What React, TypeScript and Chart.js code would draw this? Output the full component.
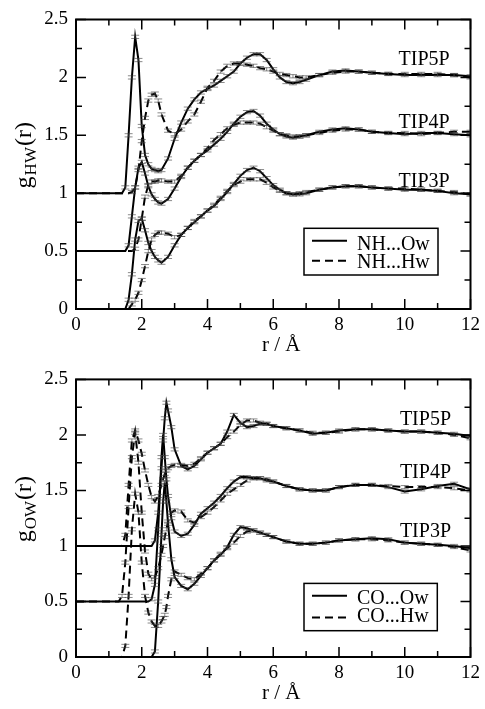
import React, { useEffect, useRef } from 'react';
import { Chart, registerables } from 'chart.js';

Chart.register(...registerables);

// ---------- top panel: N-H ... water ----------
const R_TOP = [0, 1.4, 1.5, 1.6, 1.7, 1.8, 1.9, 2.0, 2.1, 2.2, 2.3, 2.4, 2.5, 2.6, 2.8, 3.0, 3.2, 3.4, 3.6, 3.8, 4.0, 4.2, 4.4, 4.6, 4.8, 5.0, 5.2, 5.4, 5.6, 5.8, 6.0, 6.2, 6.4, 6.6, 6.8, 7.0, 7.4, 7.8, 8.2, 8.6, 9.0, 9.5, 10.0, 10.5, 11.0, 11.5, 12.0];

const NH_OW_TIP5P = [1.0, 1.0, 1.05, 1.5, 2.0, 2.35, 2.15, 1.58, 1.33, 1.25, 1.21, 1.2, 1.19, 1.2, 1.3, 1.47, 1.61, 1.73, 1.81, 1.87, 1.9, 1.93, 1.97, 2.01, 2.05, 2.12, 2.17, 2.2, 2.2, 2.15, 2.07, 2.0, 1.96, 1.95, 1.96, 1.98, 2.02, 2.05, 2.06, 2.05, 2.04, 2.03, 2.02, 2.02, 2.02, 2.02, 2.01];
const NH_HW_TIP5P = [1.0, 1.0, 1.0, 1.0, 1.01, 1.05, 1.2, 1.45, 1.65, 1.8, 1.85, 1.86, 1.8, 1.68, 1.54, 1.51, 1.55, 1.62, 1.68, 1.79, 1.91, 1.97, 2.05, 2.1, 2.12, 2.12, 2.11, 2.1, 2.08, 2.07, 2.05, 2.03, 2.02, 2.01, 2.0, 2.0, 2.02, 2.04, 2.05, 2.05, 2.04, 2.03, 2.03, 2.03, 2.03, 2.02, 2.0];
const NH_OW_TIP4P = [0.5, 0.5, 0.5, 0.55, 0.8, 1.05, 1.22, 1.27, 1.17, 1.06, 0.99, 0.95, 0.92, 0.91, 0.95, 1.04, 1.14, 1.22, 1.28, 1.33, 1.37, 1.42, 1.47, 1.53, 1.6, 1.66, 1.7, 1.71, 1.67, 1.6, 1.55, 1.51, 1.49, 1.48, 1.49, 1.5, 1.53, 1.55, 1.56, 1.55, 1.53, 1.52, 1.51, 1.52, 1.52, 1.51, 1.5];
const NH_HW_TIP4P = [0.5, 0.5, 0.5, 0.5, 0.5, 0.52, 0.6, 0.78, 0.97, 1.07, 1.1, 1.1, 1.11, 1.11, 1.1, 1.1, 1.15, 1.22, 1.28, 1.33, 1.39, 1.46, 1.51, 1.56, 1.59, 1.61, 1.61, 1.61, 1.6, 1.57, 1.54, 1.51, 1.5, 1.49, 1.49, 1.5, 1.52, 1.54, 1.55, 1.55, 1.53, 1.52, 1.52, 1.51, 1.52, 1.53, 1.53];
const NH_OW_TIP3P = [0, 0, 0, 0.08, 0.3, 0.6, 0.76, 0.78, 0.68, 0.57, 0.5, 0.45, 0.42, 0.4, 0.45, 0.55, 0.64, 0.7, 0.75, 0.8, 0.85, 0.89, 0.95, 1.01, 1.08, 1.15, 1.2, 1.22, 1.19, 1.13, 1.07, 1.03, 1.0, 0.99, 0.99, 1.0, 1.03, 1.05, 1.06, 1.06, 1.05, 1.04, 1.03, 1.03, 1.02, 1.0, 0.99];
const NH_HW_TIP3P = [0, 0, 0, 0, 0.04, 0.08, 0.14, 0.25, 0.37, 0.5, 0.6, 0.64, 0.66, 0.66, 0.65, 0.62, 0.64, 0.7, 0.76, 0.8, 0.85, 0.9, 0.96, 1.02, 1.07, 1.1, 1.12, 1.12, 1.12, 1.09, 1.05, 1.02, 1.0, 0.99, 1.0, 1.01, 1.03, 1.05, 1.06, 1.06, 1.05, 1.04, 1.04, 1.03, 1.02, 1.01, 0.99];

// ---------- bottom panel: C=O ... water ----------
const R_BOT = [0, 1.3, 1.4, 1.5, 1.6, 1.7, 1.8, 1.9, 2.0, 2.1, 2.2, 2.3, 2.4, 2.5, 2.6, 2.65, 2.7, 2.75, 2.8, 2.9, 3.0, 3.2, 3.4, 3.6, 3.8, 4.0, 4.2, 4.4, 4.6, 4.8, 5.0, 5.2, 5.4, 5.6, 5.8, 6.0, 6.4, 6.8, 7.2, 7.6, 8.0, 8.5, 9.0, 9.5, 10.0, 10.5, 11.0, 11.5, 12.0];

const CO_OW_TIP5P = [1, 1, 1, 1, 1, 1, 1, 1, 1, 1, 1, 1, 1.05, 1.3, 1.7, 1.95, 2.15, 2.29, 2.22, 2.07, 1.87, 1.72, 1.69, 1.72, 1.78, 1.84, 1.88, 1.92, 2.03, 2.18, 2.11, 2.07, 2.08, 2.1, 2.1, 2.08, 2.06, 2.04, 2.01, 2.02, 2.04, 2.05, 2.05, 2.04, 2.03, 2.03, 2.02, 2.01, 1.99];
const CO_HW_TIP5P = [1, 1, 1.0, 1.1, 1.55, 1.95, 2.04, 1.95, 1.83, 1.68, 1.55, 1.44, 1.4, 1.45, 1.55, 1.6, 1.65, 1.68, 1.7, 1.72, 1.73, 1.73, 1.72, 1.74, 1.79, 1.84, 1.88, 1.92, 1.98, 2.03, 2.09, 2.13, 2.13, 2.11, 2.1, 2.08, 2.06, 2.04, 2.02, 2.02, 2.03, 2.05, 2.05, 2.04, 2.03, 2.03, 2.02, 2.0, 1.97];
const CO_OW_TIP4P = [0.5, 0.5, 0.5, 0.5, 0.5, 0.5, 0.5, 0.5, 0.5, 0.5, 0.5, 0.52, 0.65, 1.15, 1.8, 2.0, 1.8, 1.6, 1.45, 1.25, 1.13, 1.09, 1.11, 1.19, 1.29, 1.34, 1.39, 1.45, 1.52, 1.58, 1.62, 1.62, 1.61, 1.61, 1.59, 1.58, 1.54, 1.51, 1.5, 1.5, 1.53, 1.55, 1.55, 1.53, 1.49, 1.51, 1.54, 1.56, 1.51];
const CO_HW_TIP4P = [0.5, 0.5, 0.55, 0.85, 1.35, 1.8, 2.02, 1.75, 1.3, 0.95, 0.75, 0.7, 0.72, 0.8, 0.92, 1.0, 1.08, 1.15, 1.22, 1.3, 1.32, 1.31, 1.23, 1.21, 1.26, 1.3, 1.35, 1.41, 1.47, 1.51, 1.55, 1.59, 1.61, 1.61, 1.6, 1.58, 1.54, 1.51, 1.5, 1.5, 1.53, 1.55, 1.55, 1.54, 1.53, 1.53, 1.53, 1.52, 1.5];
const CO_OW_TIP3P = [0, 0, 0, 0, 0, 0, 0, 0, 0, 0, 0, 0, 0.05, 0.5, 1.1, 1.4, 1.57, 1.4, 1.2, 0.88, 0.72, 0.64, 0.61, 0.66, 0.73, 0.8, 0.87, 0.92, 0.99, 1.1, 1.17, 1.16, 1.14, 1.12, 1.1, 1.08, 1.04, 1.02, 1.02, 1.03, 1.05, 1.06, 1.07, 1.06, 1.03, 1.02, 1.01, 1.0, 0.98];
const CO_HW_TIP3P = [0, 0, 0.0, 0.1, 0.55, 1.15, 1.47, 1.3, 0.85, 0.55, 0.4, 0.32, 0.28, 0.28, 0.32, 0.35, 0.38, 0.45, 0.55, 0.7, 0.77, 0.74, 0.71, 0.7, 0.75, 0.8, 0.87, 0.93, 0.98, 1.03, 1.09, 1.13, 1.14, 1.12, 1.1, 1.08, 1.04, 1.02, 1.02, 1.03, 1.05, 1.06, 1.06, 1.05, 1.03, 1.02, 1.01, 0.99, 0.96];

const MODEL_LABELS = ['TIP5P', 'TIP4P', 'TIP3P'];
const TOP_LABEL_Y = [2.107, 1.56, 1.056];
const BOT_LABEL_Y = [2.086, 1.612, 1.08];
const TOP_LEGEND = ['NH...Ow', 'NH...Hw'];
const BOT_LEGEND = ['CO...Ow', 'CO...Hw'];
const ERR = 0.014;

const SERIF = '"Liberation Serif", "DejaVu Serif", serif';

type Panel = {
  r: number[];
  series: { v: number[]; dashed: boolean }[];
  labelY: number[];
  labelX: number;
  legend: string[];
  sub: string;
  canvasH: number;
  padTop: number;
  plotH: number;
  legendBox: { left: number; top: number; w: number; h: number; rows: number[]; base: number[] };
};

const decoPlugin = {
  id: 'deco',
  afterDatasetsDraw(chart: any) {
    const { ctx, chartArea: ca, scales } = chart;
    const x = scales.x, y = scales.y;
    ctx.save();
    ctx.beginPath();
    ctx.rect(ca.left, ca.top, ca.right - ca.left, ca.bottom - ca.top);
    ctx.clip();
    ctx.strokeStyle = 'rgba(60,60,60,0.6)';
    ctx.lineWidth = 1;
    chart.data.datasets.forEach((ds: any) => {
      const pts = ds.data;
      const k = pts.findIndex((p: any) => p.y !== pts[0].y);
      for (let i = Math.max(k, 1); i < pts.length; i++) {
        const px = x.getPixelForValue(pts[i].x);
        const y1 = y.getPixelForValue(pts[i].y + ERR);
        const y2 = y.getPixelForValue(pts[i].y - ERR);
        ctx.beginPath();
        ctx.moveTo(px - 4, y1); ctx.lineTo(px + 4, y1);
        ctx.moveTo(px - 4, y2); ctx.lineTo(px + 4, y2);
        ctx.moveTo(px, y1); ctx.lineTo(px, y2);
        ctx.stroke();
      }
    });
    ctx.restore();
  },
  afterDraw(chart: any, _a: any, opts: any) {
    const { ctx, chartArea: ca, scales } = chart;
    const x = scales.x, y = scales.y;
    ctx.save();
    ctx.strokeStyle = '#000';
    ctx.fillStyle = '#000';
    // ticks (inward, mirrored)
    ctx.lineWidth = 1.5;
    for (let v = 0; v <= 12; v += 1) {
      const px = x.getPixelForValue(v);
      const len = v % 2 === 0 ? 10 : 6;
      ctx.beginPath();
      ctx.moveTo(px, ca.bottom); ctx.lineTo(px, ca.bottom - len);
      ctx.moveTo(px, ca.top); ctx.lineTo(px, ca.top + len);
      ctx.stroke();
    }
    for (let j = 0; j <= 10; j++) {
      const v = j * 0.25;
      const py = y.getPixelForValue(v);
      const len = j % 2 === 0 ? 10 : 6;
      ctx.beginPath();
      ctx.moveTo(ca.left, py); ctx.lineTo(ca.left + len, py);
      ctx.moveTo(ca.right, py); ctx.lineTo(ca.right - len, py);
      ctx.stroke();
    }
    // frame
    ctx.lineWidth = 2;
    ctx.strokeRect(ca.left, ca.top, ca.right - ca.left, ca.bottom - ca.top);

    // model labels
    ctx.font = `20px ${SERIF}`;
    ctx.textAlign = 'center';
    ctx.textBaseline = 'alphabetic';
    opts.labels.forEach((t: string, i: number) => {
      ctx.fillText(t, x.getPixelForValue(opts.labelX), y.getPixelForValue(opts.labelY[i]));
    });

    // legend
    const lb = opts.legendBox;
    const bx = ca.left + lb.left, by = ca.top + lb.top;
    ctx.lineWidth = 1.5;
    ctx.strokeRect(bx, by, lb.w, lb.h);
    ctx.lineWidth = 2;
    opts.legend.forEach((t: string, i: number) => {
      ctx.setLineDash(i === 1 ? [8, 5] : []);
      ctx.beginPath();
      ctx.moveTo(bx + 8, by + lb.rows[i]);
      ctx.lineTo(bx + 43, by + lb.rows[i]);
      ctx.stroke();
      ctx.setLineDash([]);
      ctx.textAlign = 'left';
      ctx.fillText(t, bx + 53, by + lb.base[i]);
    });

    // x title
    ctx.textAlign = 'center';
    ctx.textBaseline = 'middle';
    ctx.font = `21px ${SERIF}`;
    ctx.fillText('r / Å', (ca.left + ca.right) / 2 + 8, ca.bottom + 36);

    // y title with subscript
    const cy = (ca.top + ca.bottom) / 2 - 8;
    ctx.translate(31, cy);
    ctx.rotate(-Math.PI / 2);
    ctx.textAlign = 'left';
    ctx.textBaseline = 'alphabetic';
    const big = `24px ${SERIF}`, small = `17px ${SERIF}`;
    ctx.font = big; const wg = ctx.measureText('g').width; const wt = ctx.measureText('(r)').width;
    ctx.font = small; const ws = ctx.measureText(opts.sub).width;
    const start = -(wg + ws + wt) / 2;
    ctx.font = big; ctx.fillText('g', start, 0);
    ctx.font = small; ctx.fillText(opts.sub, start + wg + 1, 5);
    ctx.font = big; ctx.fillText('(r)', start + wg + ws + 2, 0);
    ctx.restore();
  },
};

function makeConfig(p: Panel): any {
  const tickFont = { family: SERIF, size: 19 };
  return {
    type: 'line',
    data: {
      datasets: p.series.map((s) => ({
        data: p.r.map((xv, i) => ({ x: xv, y: s.v[i] })),
        borderColor: '#000',
        borderWidth: 2,
        borderDash: s.dashed ? [8, 5] : [],
        pointRadius: 0,
        tension: 0,
        fill: false,
      })),
    },
    options: {
      animation: false,
      responsive: false,
      maintainAspectRatio: false,
      layout: { padding: { top: p.padTop, right: 10, left: 0, bottom: 0 } },
      plugins: {
        legend: { display: false },
        tooltip: { enabled: false },
        deco: {
          labels: MODEL_LABELS,
          labelX: p.labelX,
          labelY: p.labelY,
          legend: p.legend,
          legendBox: p.legendBox,
          sub: p.sub,
        },
      },
      scales: {
        x: {
          type: 'linear',
          min: 0,
          max: 12,
          ticks: { stepSize: 2, font: tickFont, color: '#000', padding: 5, maxRotation: 0, autoSkip: false, callback: (v: number) => String(v) },
          grid: { display: false, drawTicks: false },
          border: { display: false },
          afterFit: (s: any) => { s.height = p.canvasH - p.padTop - p.plotH; },
        },
        y: {
          type: 'linear',
          min: 0,
          max: 2.5,
          ticks: { stepSize: 0.5, font: tickFont, color: '#000', padding: 8, callback: (v: number) => String(Math.round(v * 100) / 100) },
          grid: { display: false, drawTicks: false },
          border: { display: false },
          afterFit: (s: any) => { s.width = 76; },
        },
      },
    },
    plugins: [decoPlugin],
  };
}

const TOP: Panel = {
  r: R_TOP,
  series: [
    { v: NH_OW_TIP5P, dashed: false },
    { v: NH_HW_TIP5P, dashed: true },
    { v: NH_OW_TIP4P, dashed: false },
    { v: NH_HW_TIP4P, dashed: true },
    { v: NH_OW_TIP3P, dashed: false },
    { v: NH_HW_TIP3P, dashed: true },
  ],
  labelY: TOP_LABEL_Y,
  labelX: 10.59,
  legend: TOP_LEGEND,
  sub: 'HW',
  canvasH: 360,
  padTop: 19.5,
  plotH: 289.5,
  legendBox: { left: 228, top: 208.8, w: 134, h: 46.7, rows: [12.4, 32.4], base: [21.7, 40] },
};

const BOT: Panel = {
  r: R_BOT,
  series: [
    { v: CO_OW_TIP5P, dashed: false },
    { v: CO_HW_TIP5P, dashed: true },
    { v: CO_OW_TIP4P, dashed: false },
    { v: CO_HW_TIP4P, dashed: true },
    { v: CO_OW_TIP3P, dashed: false },
    { v: CO_HW_TIP3P, dashed: true },
  ],
  labelY: BOT_LABEL_Y,
  labelX: 10.63,
  legend: BOT_LEGEND,
  sub: 'OW',
  canvasH: 349,
  padTop: 7,
  plotH: 290,
  legendBox: { left: 228, top: 204, w: 133.3, h: 47.3, rows: [12.3, 34], base: [20.7, 39] },
};

function PanelChart({ p, top }: { p: Panel; top: number }) {
  const ref = useRef<HTMLCanvasElement | null>(null);
  useEffect(() => {
    if (!ref.current) return;
    const chart = new Chart(ref.current, makeConfig(p));
    return () => chart.destroy();
  }, [p]);
  return (
    <canvas
      ref={ref}
      width={485}
      height={p.canvasH}
      style={{ position: 'absolute', left: 0, top, width: 485, height: p.canvasH }}
    />
  );
}

export default function App() {
  return (
    <div style={{ position: 'fixed', left: 0, top: 0, width: 485, height: 709, background: '#fff', overflow: 'hidden' }}>
      <PanelChart p={TOP} top={0} />
      <PanelChart p={BOT} top={360} />
    </div>
  );
}
